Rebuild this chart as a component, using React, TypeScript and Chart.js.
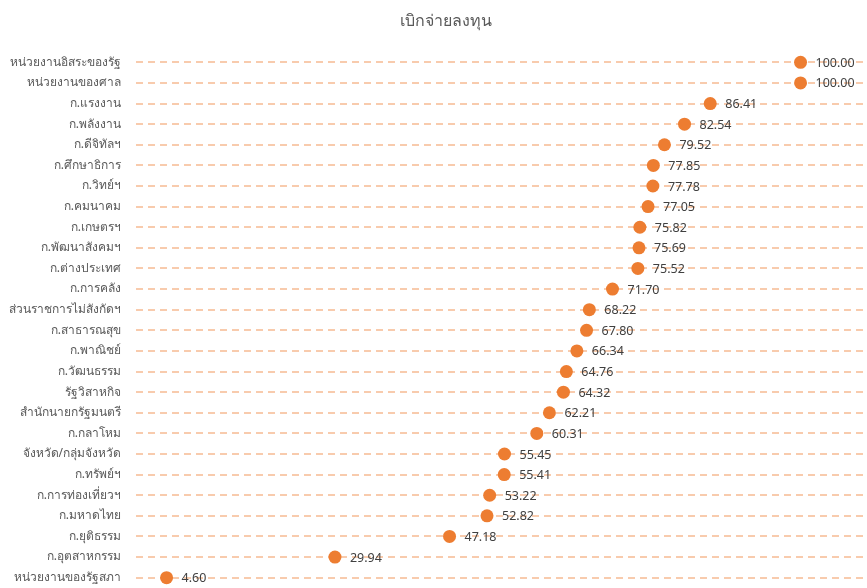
import React, { useEffect, useRef } from "react";
import { Chart, registerables } from "chart.js";

Chart.register(...registerables);

const TITLE = "เบิกจ่ายลงทุน";

const categories: string[] = [
  "หน่วยงานอิสระของรัฐ",
  "หน่วยงานของศาล",
  "ก.แรงงาน",
  "ก.พลังงาน",
  "ก.ดีจิทัลฯ",
  "ก.ศึกษาธิการ",
  "ก.วิทย์ฯ",
  "ก.คมนาคม",
  "ก.เกษตรฯ",
  "ก.พัฒนาสังคมฯ",
  "ก.ต่างประเทศ",
  "ก.การคลัง",
  "ส่วนราชการไม่สังกัดฯ",
  "ก.สาธารณสุข",
  "ก.พาณิชย์",
  "ก.วัฒนธรรม",
  "รัฐวิสาหกิจ",
  "สำนักนายกรัฐมนตรี",
  "ก.กลาโหม",
  "จังหวัด/กลุ่มจังหวัด",
  "ก.ทรัพย์ฯ",
  "ก.การท่องเที่ยวฯ",
  "ก.มหาดไทย",
  "ก.ยุติธรรม",
  "ก.อุตสาหกรรม",
  "หน่วยงานของรัฐสภา",
];

const values: number[] = [
  100.0, 100.0, 86.41, 82.54, 79.52, 77.85, 77.78, 77.05, 75.82, 75.69, 75.52,
  71.7, 68.22, 67.8, 66.34, 64.76, 64.32, 62.21, 60.31, 55.45, 55.41, 53.22,
  52.82, 47.18, 29.94, 4.6,
];

const FONT = "'Noto Sans', 'DejaVu Sans', sans-serif";

const titlePlugin = {
  id: "customTitle",
  afterDraw(chart: any) {
    const ctx = chart.ctx;
    ctx.save();
    ctx.font = `16px ${FONT}`;
    ctx.fillStyle = "#595959";
    ctx.textAlign = "center";
    ctx.textBaseline = "middle";
    ctx.fillText(TITLE, 446, 21);
    ctx.restore();
  },
};

const valueLabelPlugin = {
  id: "valueLabels",
  afterDatasetsDraw(chart: any) {
    const ctx = chart.ctx;
    const meta = chart.getDatasetMeta(0);
    ctx.save();
    ctx.font = `12.5px ${FONT}`;
    ctx.fillStyle = "#404040";
    ctx.textAlign = "left";
    ctx.textBaseline = "middle";
    meta.data.forEach((pt: any, i: number) => {
      const v = chart.data.datasets[0].data[i] as number;
      ctx.fillText(v.toFixed(2), pt.x + 15, pt.y + 1);
    });
    ctx.restore();
  },
};

export default function App() {
  const canvasRef = useRef<HTMLCanvasElement | null>(null);

  useEffect(() => {
    if (!canvasRef.current) return;
    const chart = new Chart(canvasRef.current, {
      type: "line",
      data: {
        labels: categories,
        datasets: [
          {
            data: values,
            showLine: false,
            pointRadius: 6.5,
            pointHoverRadius: 6.5,
            pointBackgroundColor: "#ED7D31",
            pointBorderColor: "#ED7D31",
            pointBorderWidth: 0,
            clip: false as any,
          },
        ],
      },
      options: {
        indexAxis: "y",
        animation: false,
        responsive: false,
        maintainAspectRatio: false,
        devicePixelRatio: 1,
        layout: { autoPadding: false, padding: { top: 52, bottom: 0, left: 0, right: 0 } },
        plugins: {
          legend: { display: false },
          title: { display: false },
          tooltip: { enabled: false },
        },
        scales: {
          x: {
            type: "linear",
            display: false,
            min: 0,
            max: 110,
          },
          y: {
            type: "category",
            offset: true,
            afterFit(scale: any) {
              scale.width = 136;
              scale.paddingTop = 0;
              scale.paddingBottom = 0;
            },
            grid: {
              drawTicks: false,
              color: "#F8CBAD",
              lineWidth: 2,
            },
            border: { display: false, dash: [7, 5] },
            ticks: {
              padding: 15,
              color: "#595959",
              font: { family: FONT, size: 12 },
              autoSkip: false,
            },
          } as any,
        },
      },
      plugins: [titlePlugin, valueLabelPlugin],
    });
    return () => chart.destroy();
  }, []);

  return (
    <div
      style={{
        position: "absolute",
        left: 0,
        top: 0,
        width: 867,
        height: 588,
        background: "#ffffff",
      }}
    >
      <canvas ref={canvasRef} width={867} height={588} style={{ display: "block" }} />
    </div>
  );
}
